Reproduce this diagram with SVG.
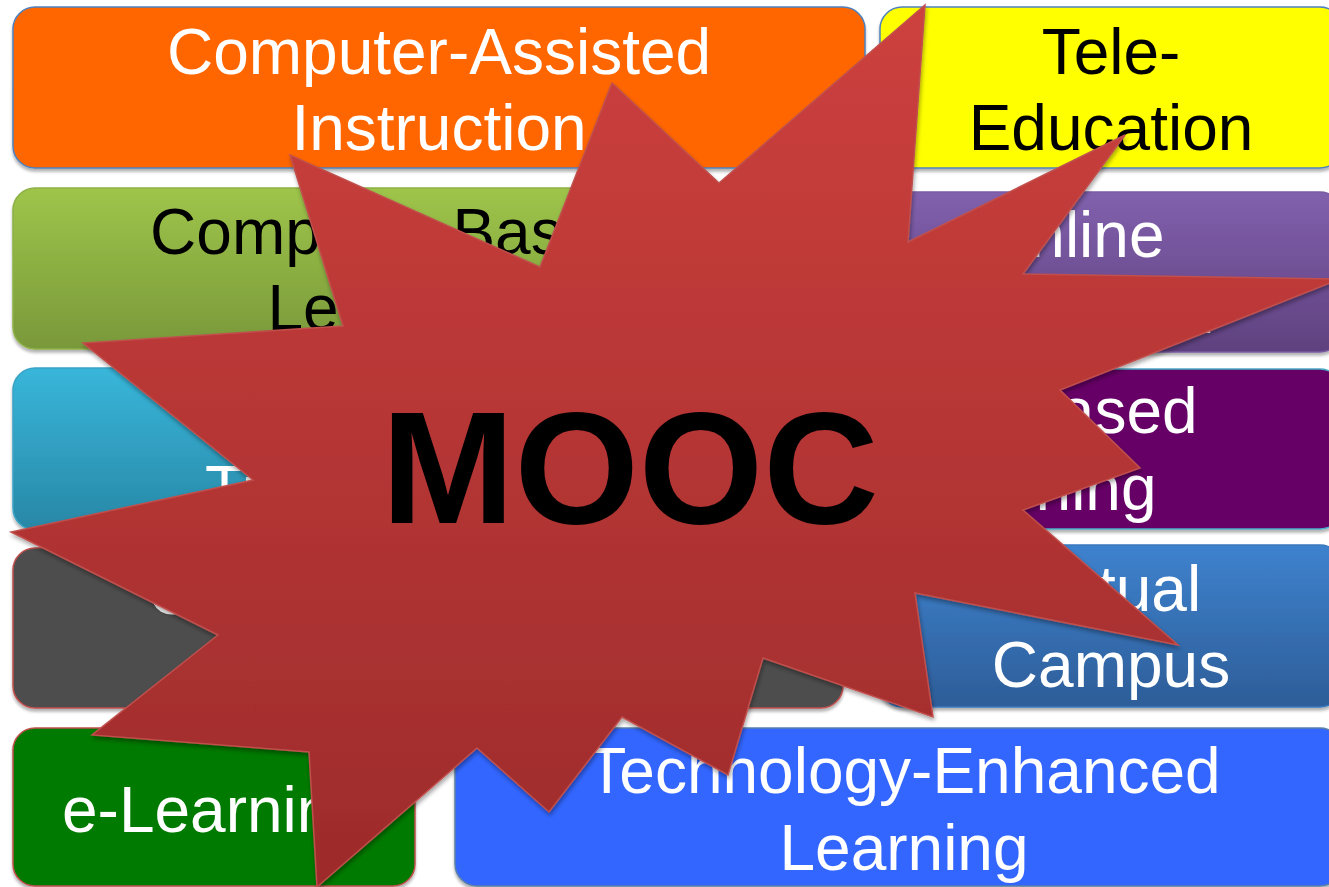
<svg xmlns="http://www.w3.org/2000/svg" width="1329" height="887" viewBox="0 0 1329 887">
<style>
.t{font-family:"Liberation Sans",Arial,sans-serif;font-size:64px;text-anchor:middle}
.s{text-anchor:start}
.w{fill:#ffffff}
.k{fill:#000000}
.box{filter:url(#sh)}
</style>
<defs>
<filter id="sh" x="-5%" y="-10%" width="110%" height="130%">
<feDropShadow dx="0" dy="3" stdDeviation="1.5" flood-color="#000" flood-opacity="0.3"/>
</filter>
<filter id="ssh" x="-5%" y="-5%" width="110%" height="110%">
<feDropShadow dx="1" dy="3" stdDeviation="2" flood-color="#000" flood-opacity="0.35"/>
</filter>
<linearGradient id="gGreen" x1="0" y1="0" x2="0" y2="1"><stop offset="0" stop-color="#9EC54A"/><stop offset="1" stop-color="#79983A"/></linearGradient>
<linearGradient id="gPurple" x1="0" y1="0" x2="0" y2="1"><stop offset="0" stop-color="#8160AD"/><stop offset="1" stop-color="#5F417F"/></linearGradient>
<linearGradient id="gCyan" x1="0" y1="0" x2="0" y2="1"><stop offset="0" stop-color="#38B6DA"/><stop offset="1" stop-color="#2887A6"/></linearGradient>
<linearGradient id="gBlue" x1="0" y1="0" x2="0" y2="1"><stop offset="0" stop-color="#3E82CE"/><stop offset="1" stop-color="#2D5D98"/></linearGradient>
<linearGradient id="gStar" gradientUnits="userSpaceOnUse" x1="0" y1="5" x2="0" y2="887"><stop offset="0" stop-color="#CD403E"/><stop offset="1" stop-color="#9D2B2B"/></linearGradient>
</defs>

<g id="cai" class="box">
<rect x="13" y="7" width="852" height="161" rx="22" fill="#FF6600" stroke="#4F81BD" stroke-width="1.5"/>
<text class="t w" x="439" y="74">Computer-Assisted</text>
<text class="t w" x="439" y="150">Instruction</text>
</g>
<g id="tele" class="box">
<rect x="880" y="7" width="462" height="161" rx="22" fill="#FFFF00" stroke="#4F81BD" stroke-width="1.5"/>
<text class="t k" x="1111" y="74">Tele-</text>
<text class="t k" x="1111" y="150">Education</text>
</g>
<g id="cbl" class="box">
<rect x="13" y="188" width="758" height="161" rx="22" fill="url(#gGreen)" stroke="#8DB046" stroke-width="1.5"/>
<text class="t k" x="392" y="254">Computer-Based</text>
<text class="t k" x="392" y="330">Learning</text>
</g>
<g id="online" class="box">
<rect x="786" y="192" width="556" height="160" rx="22" fill="url(#gPurple)" stroke="#7A5CA3" stroke-width="1.5"/>
<text class="t w" x="1072" y="257">Online</text>
<text class="t w" x="1072" y="333">Education</text>
</g>
<g id="wbt" class="box">
<rect x="13" y="368" width="690" height="162" rx="22" fill="url(#gCyan)" stroke="#3AA3C4" stroke-width="1.5"/>
<text class="t s w" x="188" y="435">Web-Based</text>
<text class="t s w" x="205" y="511">Training</text>
</g>
<g id="wbl" class="box">
<rect x="718" y="369" width="624" height="160" rx="22" fill="#660066" stroke="#4BACC6" stroke-width="1.5"/>
<text class="t w" x="1031" y="433">Web-Based</text>
<text class="t w" x="1032" y="510">Learning</text>
</g>
<g id="odl" class="box">
<rect x="13" y="548" width="830" height="160" rx="22" fill="#4D4D4D" stroke="#C0504D" stroke-width="1.5"/>
<text class="t w" x="422" y="614">Open and Distance</text>
<text class="t w" x="428" y="690">Learning</text>
</g>
<g id="vc" class="box">
<rect x="880" y="545" width="462" height="162" rx="22" fill="url(#gBlue)" stroke="#3B78BE" stroke-width="1.5"/>
<text class="t w" x="1111" y="611">Virtual</text>
<text class="t w" x="1111" y="687">Campus</text>
</g>
<g id="el" class="box">
<rect x="13" y="728" width="402" height="158" rx="22" fill="#007A00" stroke="#C0504D" stroke-width="1.5"/>
<text class="t w" x="215" y="832">e-Learning</text>
</g>
<g id="tel" class="box">
<rect x="455" y="728" width="887" height="158" rx="22" fill="#3366FF" stroke="#5A7FA8" stroke-width="1.5"/>
<text class="t w" x="904" y="793">Technology-Enhanced</text>
<text class="t w" x="904" y="870">Learning</text>
</g>

<g id="mooc">
<polygon filter="url(#ssh)" fill="url(#gStar)" stroke="#C0504D" stroke-width="1.5" stroke-linejoin="miter" points="290,155 343,326 83,343 253,480 11,532 218,635 92,735 309,752 317,887 477,748 549,812 622,717 728,775 763,658 933,717 915,593 1178,645 1023,510 1140,468 1060,390 1340,279 1023,274 1125,135 908,242 925,5 719,183 612,83 540,267"/>
<text x="630" y="523" font-family="'Liberation Sans',Arial,sans-serif" font-weight="bold" font-size="160" text-anchor="middle" fill="#000">MOOC</text>
</g>
<g id="connectors"/>
</svg>
